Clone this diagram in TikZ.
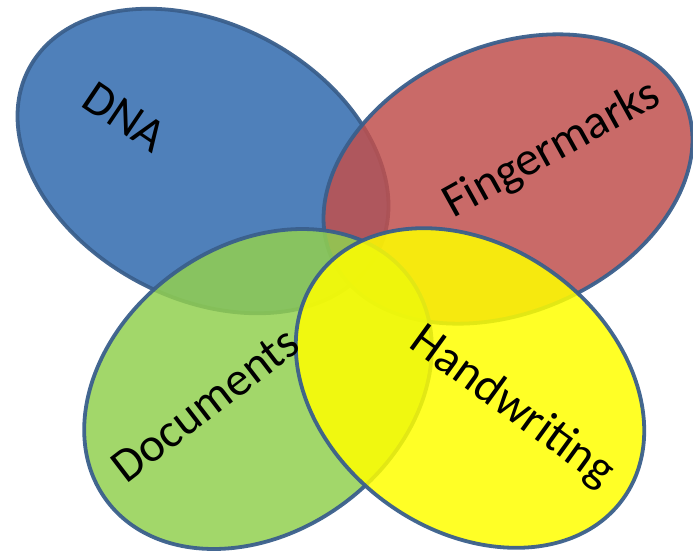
\documentclass[tikz,border=0pt]{standalone}
\usepackage{fontspec}
\setmainfont{Carlito}
\usetikzlibrary{shapes.geometric}
\definecolor{cblue}{HTML}{306AAE}
\definecolor{cred}{HTML}{C0504D}
\definecolor{cgreen}{HTML}{92D050}
\definecolor{cyellow}{HTML}{FFFF00}
\definecolor{cedge}{HTML}{3A5F8C}
\tikzset{
  blob/.style={ellipse, draw=cedge, line width=3.8pt, fill opacity=0.85, draw opacity=0.95, inner sep=0pt, outer sep=0pt},
  lbl/.style={font=\fontsize{48}{56}\selectfont, text=black, inner sep=0pt}
}
\begin{document}
\begin{tikzpicture}[x=1pt,y=-1pt]
\useasboundingbox (0,0) rectangle (693,552);
\node[blob, fill=cblue, minimum width=394pt, minimum height=274pt, rotate=-28] (dna) at (203,161) {};
\node[blob, fill=cred, minimum width=386pt, minimum height=266pt, rotate=24] (fm) at (508,179) {};
\node[blob, fill=cgreen, minimum width=376pt, minimum height=286pt, rotate=36] (doc) at (258,389) {};
\node[blob, fill=cyellow, minimum width=378pt, minimum height=284pt, rotate=-36] (hw) at (470,388) {};
\node[lbl, rotate=-34] (tdna) at (125,117) {DNA};
\node[lbl, rotate=29] (tfm) at (552,150) {Fingermarks};
\node[lbl, rotate=37.5] (tdoc) at (205,405) {Documents};
\node[lbl, rotate=-36] (thw) at (512,407) {Handwriting};
\end{tikzpicture}
\end{document}
